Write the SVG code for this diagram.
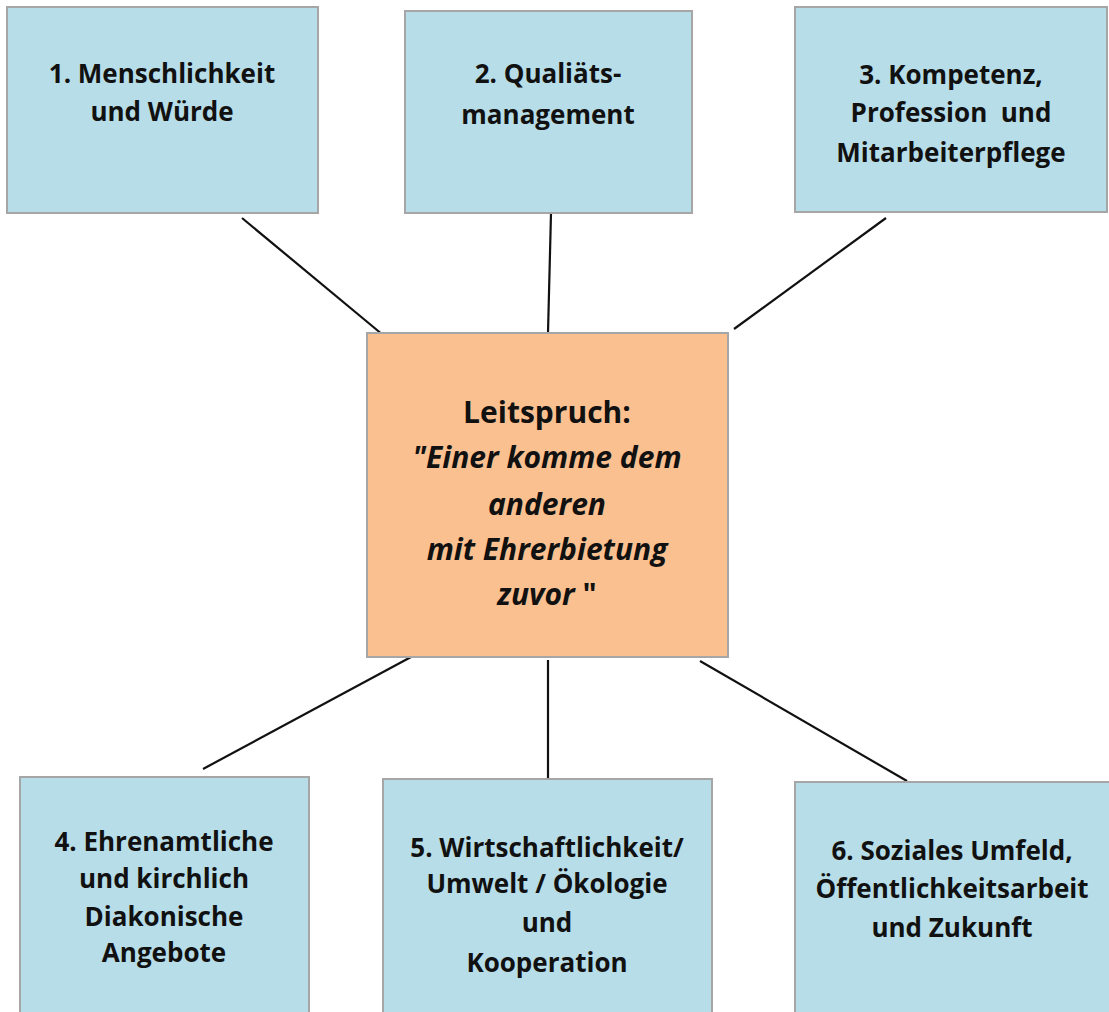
<svg xmlns="http://www.w3.org/2000/svg" width="1109" height="1012" viewBox="0 0 1109 1012">
<style>
.box{fill:#b7dde8;stroke:#a6a6a6;stroke-width:2}
.center{fill:#fac090;stroke:#a6a6a6;stroke-width:2}
.t{font-family:"Open Sans",Lato,"Liberation Sans",sans-serif;font-weight:700;font-size:26px;fill:#111;text-anchor:middle}
.c{font-family:"Open Sans",Lato,"Liberation Sans",sans-serif;font-weight:700;font-size:30px;fill:#111;text-anchor:middle}
.i{font-style:italic}
.conn line{stroke:#111;stroke-width:2.2}
</style>
<rect width="1109" height="1012" fill="#fff"/>
<g id="connectors" class="conn">
<line x1="242" y1="218" x2="383" y2="335"/>
<line x1="551" y1="213" x2="548" y2="333"/>
<line x1="886" y1="218" x2="734" y2="329"/>
<line x1="411" y1="657" x2="203" y2="769"/>
<line x1="548" y1="660" x2="548" y2="778"/>
<line x1="700" y1="661" x2="907" y2="781"/>
</g>
<g id="node1">
<rect class="box" x="7" y="7" width="311" height="206"/>
<text class="t" x="162" y="83">1. Menschlichkeit</text>
<text class="t" x="162" y="121">und Würde</text>
</g>
<g id="node2">
<rect class="box" x="405" y="11" width="287" height="202"/>
<text class="t" x="548" y="83">2. Qualiäts-</text>
<text class="t" x="548" y="124">management</text>
</g>
<g id="node3">
<rect class="box" x="795" y="7" width="312" height="205"/>
<text class="t" x="951" y="84">3. Kompetenz,</text>
<text class="t" x="951" y="122" xml:space="preserve">Profession  und</text>
<text class="t" x="951" y="162">Mitarbeiterpflege</text>
</g>
<g id="center">
<rect class="center" x="367" y="333" width="361" height="324"/>
<text class="c" x="547" y="423">Leitspruch:</text>
<text class="c i" x="547" y="468">"Einer komme dem</text>
<text class="c i" x="547" y="515">anderen</text>
<text class="c i" x="547" y="560">mit Ehrerbietung</text>
<text class="c" x="547" y="605"><tspan class="i">zuvor</tspan> "</text>
</g>
<g id="node4">
<rect class="box" x="20" y="777" width="289" height="245"/>
<text class="t" x="164" y="851">4. Ehrenamtliche</text>
<text class="t" x="164" y="888">und kirchlich</text>
<text class="t" x="164" y="926">Diakonische</text>
<text class="t" x="164" y="962">Angebote</text>
</g>
<g id="node5">
<rect class="box" x="383" y="779" width="329" height="245"/>
<text class="t" x="547" y="857">5. Wirtschaftlichkeit/</text>
<text class="t" x="547" y="893">Umwelt / Ökologie</text>
<text class="t" x="547" y="932">und</text>
<text class="t" x="547" y="972">Kooperation</text>
</g>
<g id="node6">
<rect class="box" x="795" y="782" width="320" height="240"/>
<text class="t" x="952" y="860">6. Soziales Umfeld,</text>
<text class="t" x="952" y="898">Öffentlichkeitsarbeit</text>
<text class="t" x="952" y="937">und Zukunft</text>
</g>
</svg>
